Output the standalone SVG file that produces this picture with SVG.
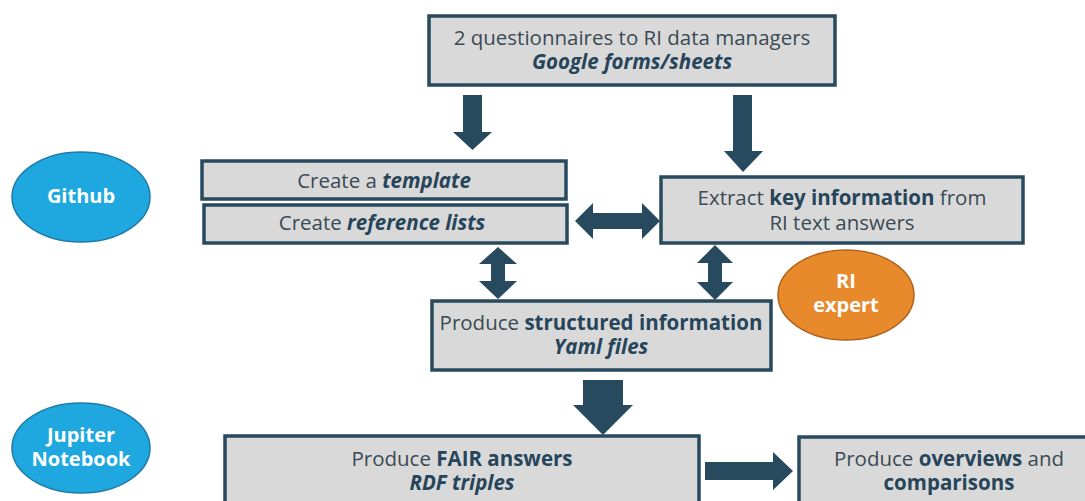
<svg xmlns="http://www.w3.org/2000/svg" width="1085" height="501" viewBox="0 0 1085 501">
<style>
.box{fill:#d9d9d9;stroke:#274a5f;stroke-width:3.5}
.t{font-family:"Open Sans","Noto Sans",sans-serif;font-size:20.5px;fill:#3b4a54;text-anchor:middle}
.b{font-weight:bold;fill:#27455a}
.bi{font-weight:bold;font-style:italic;fill:#27455a}
.arr{fill:#274a5f}
.blue{fill:#1ea8df;stroke:#1f7aa8;stroke-width:1.5}
.orange{fill:#e88a2c;stroke:#b0621c;stroke-width:1.5}
.et{font-family:"Open Sans","Noto Sans",sans-serif;font-size:20px;font-weight:bold;fill:#ffffff;text-anchor:middle}
</style>
<rect width="1085" height="501" fill="#ffffff"/>
<g id="connectors">
<polygon class="arr" points="463,95 482,95 482,132 492,132 472.5,150 453,132 463,132"/>
<polygon class="arr" points="733,95 752,95 752,151 763,151 743,172 724,151 733,151"/>
<polygon class="arr" points="575,221 593,203 593,213 642,213 642,203 660,221 642,239 642,229 593,229 593,239"/>
<polygon class="arr" points="498,247 517,264 505,264 505,281 517,281 498,299 479,281 491,281 491,264 479,264"/>
<polygon class="arr" points="715,245 733,263 722,263 722,282 733,282 715,300 697,282 708,282 708,263 697,263"/>
<polygon class="arr" points="583,380 623,380 623,405 633,405 603,435 573,405 583,405"/>
<polygon class="arr" points="705,462 773,462 773,452 793,471 773,490 773,480 705,480"/>
</g>
<g id="questionnaires">
<rect class="box" x="429" y="16" width="406" height="69"/>
<text class="t" x="632" y="45">2 questionnaires to RI data managers</text>
<text class="t bi" x="632" y="69">Google forms/sheets</text>
</g>
<g id="template">
<rect class="box" x="202" y="161" width="364" height="38"/>
<text class="t" x="384" y="188">Create a <tspan class="bi">template</tspan></text>
</g>
<g id="reflists">
<rect class="box" x="204" y="205" width="363" height="38"/>
<text class="t" x="382" y="230">Create <tspan class="bi">reference lists</tspan></text>
</g>
<g id="extract">
<rect class="box" x="661" y="177" width="362" height="66"/>
<text class="t" x="842" y="205">Extract <tspan class="b">key information</tspan> from</text>
<text class="t" x="842" y="230">RI text answers</text>
</g>
<g id="structured">
<rect class="box" x="432" y="301" width="339" height="69"/>
<text class="t" x="601" y="330">Produce <tspan class="b">structured information</tspan></text>
<text class="t bi" x="601" y="354">Yaml files</text>
</g>
<g id="fair">
<rect class="box" x="225" y="436" width="474" height="70"/>
<text class="t" x="462" y="466">Produce <tspan class="b">FAIR answers</tspan></text>
<text class="t bi" x="462" y="490">RDF triples</text>
</g>
<g id="overviews">
<rect class="box" x="799" y="437" width="300" height="70"/>
<text class="t" x="949" y="466">Produce <tspan class="b">overviews</tspan> and</text>
<text class="t b" x="949" y="490">comparisons</text>
</g>
<g id="github">
<ellipse class="blue" cx="81" cy="197" rx="69" ry="45"/>
<text class="et" x="81" y="203">Github</text>
</g>
<g id="jupiter">
<ellipse class="blue" cx="81" cy="448" rx="69" ry="45"/>
<text class="et" x="81" y="442">Jupiter</text>
<text class="et" x="81" y="466">Notebook</text>
</g>
<g id="riexpert">
<ellipse class="orange" cx="846" cy="295" rx="68" ry="45"/>
<text class="et" x="846" y="288">RI</text>
<text class="et" x="846" y="312">expert</text>
</g>
</svg>
